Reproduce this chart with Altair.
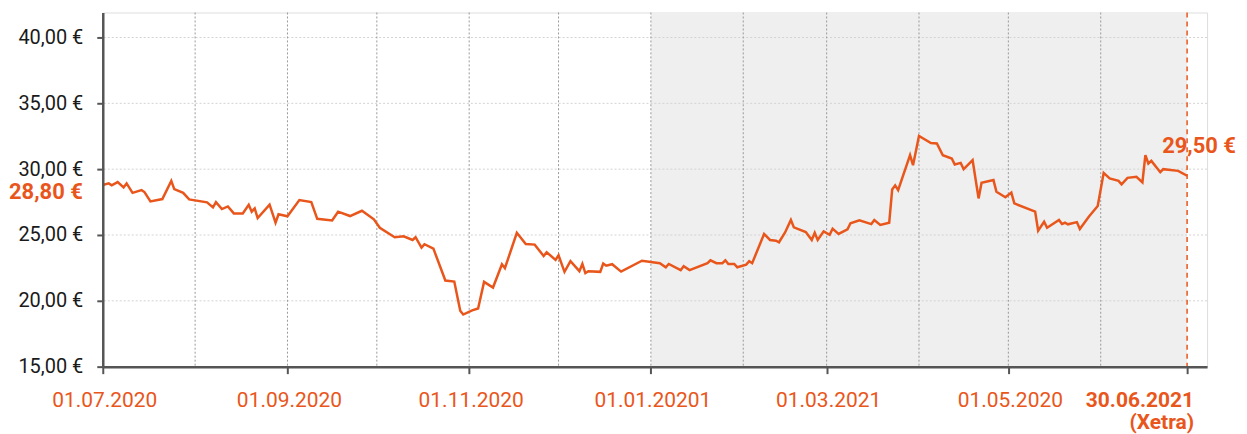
import altair as alt
import pandas as pd

ORANGE = "#E9561B"

# days since 01.07.2020 and closing prices (EUR)
days = [
    0, 2, 3, 5, 7, 8, 10, 13, 14, 16,
    20, 23, 24, 27, 29, 35, 37, 38, 40, 42,
    44, 47, 49, 50, 51, 52, 56, 58, 59, 62,
    66, 70, 72, 77, 79, 83, 87, 91, 93, 98,
    101, 104, 105, 107, 108, 111, 115, 118, 120, 121,
    124, 126, 128, 131, 134, 135, 139, 142, 145, 148,
    149, 152, 153, 155, 157, 160, 161, 162, 163, 167,
    168, 169, 171, 174, 181, 187, 189, 190, 194, 195,
    197, 203, 204, 206, 208, 209, 210, 212, 213, 216,
    217, 218, 222, 224, 226, 227, 229, 231, 232, 236,
    238, 239, 240, 242, 244, 245, 247, 250, 251, 254,
    258, 259, 261, 264, 265, 266, 267, 271, 272, 274,
    278, 280, 282, 285, 286, 288, 289, 292, 294, 295,
    299, 300, 303, 305, 306, 313, 314, 316, 317, 321,
    322, 323, 324, 327, 328, 331, 334, 336, 338, 341,
    342, 344, 347, 349, 350, 351, 352, 355, 356, 361,
    364,
]
prices = [
    28.80, 28.92, 28.77, 29.02, 28.61, 28.92, 28.20, 28.41, 28.26, 27.55,
    27.73, 29.11, 28.48, 28.20, 27.70, 27.48, 27.10, 27.50, 26.97, 27.17,
    26.64, 26.64, 27.30, 26.77, 27.02, 26.29, 27.30, 25.93, 26.57, 26.42,
    27.65, 27.50, 26.23, 26.11, 26.77, 26.44, 26.84, 26.19, 25.55, 24.83,
    24.90, 24.62, 24.83, 24.04, 24.30, 23.96, 21.54, 21.46, 19.24, 18.96,
    19.27, 19.42, 21.44, 21.01, 22.78, 22.48, 25.17, 24.32, 24.27, 23.41,
    23.69, 23.11, 23.46, 22.20, 23.01, 22.25, 22.80, 22.10, 22.25, 22.20,
    22.83, 22.67, 22.78, 22.22, 23.05, 22.86, 22.55, 22.80, 22.33, 22.63,
    22.33, 22.86, 23.08, 22.86, 22.86, 23.08, 22.80, 22.80, 22.55, 22.75,
    23.01, 22.86, 25.08, 24.62, 24.57, 24.45, 25.17, 26.14, 25.58, 25.23,
    24.62, 25.17, 24.62, 25.28, 25.02, 25.48, 25.08, 25.43, 25.89, 26.11,
    25.83, 26.14, 25.76, 25.93, 28.46, 28.77, 28.41, 31.06, 30.30, 32.52,
    31.99, 31.95, 31.06, 30.81, 30.36, 30.48, 30.00, 30.68, 27.78, 28.96,
    29.17, 28.28, 27.86, 28.22, 27.40, 26.77, 25.33, 26.01, 25.55, 26.14,
    25.83, 25.93, 25.81, 25.98, 25.45, 26.39, 27.20, 29.72, 29.30, 29.11,
    28.84, 29.34, 29.42, 28.99, 31.06, 30.43, 30.63, 29.77, 30.00, 29.87,
    29.50,
]

tick_dates = ["2020-07-01", "2020-09-01", "2020-11-01", "2021-01-01", "2021-03-01", "2021-05-01"]
tick_labels = ["01.07.2020", "01.09.2020", "01.11.2020", "01.01.20201", "01.03.2021", "01.05.2020"]
last_date = "2021-06-30"
last_label = "30.06.2021"
last_sub = "(Xetra)"
month_lines = ["2020-08-01", "2020-09-01", "2020-10-01", "2020-11-01", "2020-12-01",
               "2021-01-01", "2021-02-01", "2021-03-01", "2021-04-01", "2021-05-01", "2021-06-01"]
band_start, band_end = "2021-01-01", "2021-06-30"
y_ticks = [15, 20, 25, 30, 35, 40]
y_grid = [20, 25, 30, 35, 40]
y_min, y_max = 15, 41.9

start = pd.Timestamp("2020-07-01")
df = pd.DataFrame({"date": start + pd.to_timedelta(days, unit="D"), "price": prices})
df["label"] = df["price"].map(lambda v: f"{v:.2f}".replace(".", ",") + " €")

ticks_df = pd.DataFrame({"date": pd.to_datetime(tick_dates), "label": tick_labels})
last_df = pd.DataFrame({"date": pd.to_datetime([last_date]), "label": [last_label], "sub": [last_sub]})
months_df = pd.DataFrame({"date": pd.to_datetime(month_lines)})
band_df = pd.DataFrame({"date": pd.to_datetime([band_start]), "end": pd.to_datetime([band_end]),
                        "price": [y_max], "bottom": [y_min]})
grid_df = pd.DataFrame({"price": y_grid})


def dt(s):
    t = pd.Timestamp(s)
    return alt.DateTime(year=t.year, month=t.month, date=t.day, hours=t.hour)


xscale = alt.Scale(domain=[dt("2020-07-01"), dt("2021-07-06 17:00")])
yscale = alt.Scale(domain=[y_min, y_max], nice=False, zero=False)

xaxis = alt.Axis(values=[dt(d) for d in tick_dates + [last_date]], labels=False, title=None,
                 grid=False, tickSize=7, tickWidth=2, tickColor="#555555",
                 domainColor="#555555", domainWidth=2.5, zindex=1)
yaxis = alt.Axis(values=y_ticks, title=None, grid=False,
                 labelExpr="replace(format(datum.value, '.2f'), '.', ',') + ' €'",
                 labelFontSize=20, labelColor="#1a1a1a", labelFont="Roboto",
                 labelPadding=14, tickSize=6, tickWidth=2, tickColor="#555555",
                 domainColor="#555555", domainWidth=2.5, zindex=1)

X = alt.X("date:T", scale=xscale, axis=xaxis, title=None)
Y = alt.Y("price:Q", scale=yscale, axis=yaxis, title=None)

band = alt.Chart(band_df).mark_rect(color="#efefef").encode(x=X, x2="end:T", y=Y, y2="bottom:Q")

hgrid = alt.Chart(grid_df).mark_rule(color="#d3d3d3", strokeDash=[2, 2], strokeWidth=1).encode(y=Y)

vgrid = alt.Chart(months_df).mark_rule(color="#999999", strokeDash=[2, 2], strokeWidth=1).encode(x=X)

line = alt.Chart(df).mark_line(color=ORANGE, strokeWidth=2.5).encode(x=X, y=Y)

endrule = alt.Chart(last_df).mark_rule(color=ORANGE, strokeDash=[5, 4], strokeWidth=1.5).encode(x=X)

xlabels = alt.Chart(ticks_df).mark_text(font="Roboto", fontSize=21, color=ORANGE,
                                        align="center", baseline="middle", dx=2).encode(
    x=X, y=alt.value(389), text="label:N")

lastlab = alt.Chart(last_df).mark_text(font="Roboto", fontSize=21, fontWeight="bold", color=ORANGE,
                                       align="right", baseline="middle", dx=7).encode(
    x=X, y=alt.value(389), text="label:N")
lastsub = alt.Chart(last_df).mark_text(font="Roboto", fontSize=21, fontWeight="bold", color=ORANGE,
                                       align="right", baseline="middle", dx=7).encode(
    x=X, y=alt.value(412), text="sub:N")

first_lab = alt.Chart(df.iloc[[0]]).mark_text(font="Roboto", fontSize=22, fontWeight="bold", color=ORANGE,
                                               align="right", baseline="middle", dx=-20, dy=7).encode(
    x=X, y=Y, text="label:N")
last_price_lab = alt.Chart(df.iloc[[-1]]).mark_text(font="Roboto", fontSize=22, fontWeight="bold", color=ORANGE,
                                                    align="left", baseline="middle", dx=-25, dy=-30).encode(
    x=X, y=Y, text="label:N")

chart = alt.layer(
    band, hgrid, vgrid, line, endrule, xlabels, lastlab, lastsub, first_lab, last_price_lab
).properties(
    width=1107,
    height=355,
    autosize=alt.AutoSizeParams(type="none"),
    padding={"left": 95, "top": 4, "right": 32, "bottom": 67},
    background="white",
).configure_view(stroke=None).configure(font="Roboto")

chart.save("out.html", embed_options={"renderer": "svg", "actions": False})
